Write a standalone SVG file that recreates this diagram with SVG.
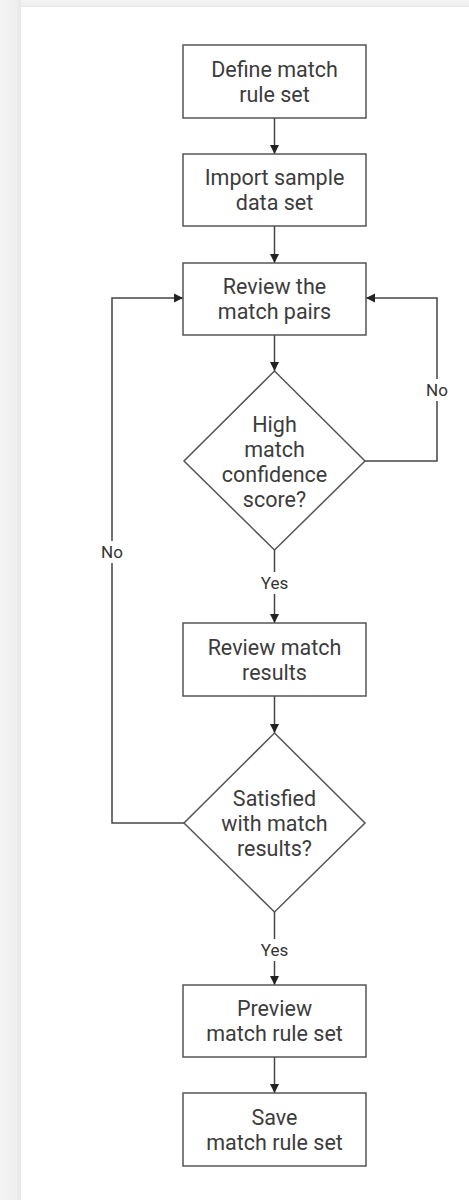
<svg xmlns="http://www.w3.org/2000/svg" width="469" height="1200" viewBox="0 0 469 1200">
<defs>
<linearGradient id="gl" x1="0" x2="1" y1="0" y2="0"><stop offset="0" stop-color="#f4f4f4"/><stop offset="0.8" stop-color="#eeeeee"/><stop offset="1" stop-color="#e6e6e6"/></linearGradient>
<linearGradient id="gt" x1="0" x2="0" y1="0" y2="1"><stop offset="0" stop-color="#f4f4f4"/><stop offset="0.8" stop-color="#eeeeee"/><stop offset="1" stop-color="#e6e6e6"/></linearGradient>
<marker id="ah" viewBox="0 0 10 10" refX="10" refY="5" markerWidth="9" markerHeight="10" markerUnits="userSpaceOnUse" orient="auto"><path d="M0,0 L10,5 L0,10 z" fill="#222"/></marker>
</defs>
<style>
.n{fill:#fff;stroke:#555;stroke-width:1.5}
.t{font-family:Roboto,"Liberation Sans",sans-serif;font-size:21.5px;fill:#3c3c3c;text-anchor:middle;dominant-baseline:central}
.l{font-family:Roboto,"Liberation Sans",sans-serif;font-size:17px;fill:#333;text-anchor:middle;dominant-baseline:central}
.c{fill:none;stroke:#444;stroke-width:1.5;marker-end:url(#ah)}
.lb{fill:#fff}
</style>
<rect width="469" height="1200" fill="#fff"/>
<rect x="0" y="0" width="21" height="1200" fill="url(#gl)"/>
<rect x="21" y="0" width="448" height="7" fill="url(#gt)"/>
<g id="connectors">
<line class="c" x1="274.5" y1="118" x2="274.5" y2="154"/>
<line class="c" x1="274.5" y1="226" x2="274.5" y2="263"/>
<line class="c" x1="274.5" y1="335" x2="274.5" y2="371"/>
<line class="c" x1="274.5" y1="550" x2="274.5" y2="623"/>
<line class="c" x1="274.5" y1="696" x2="274.5" y2="733"/>
<line class="c" x1="274.5" y1="912" x2="274.5" y2="985"/>
<line class="c" x1="274.5" y1="1057" x2="274.5" y2="1093"/>
<polyline class="c" points="365,461 437,461 437,298 366,298"/>
<polyline class="c" points="184,823 112,823 112,298 183,298"/>
<rect class="lb" x="422" y="379" width="30" height="22"/>
<text class="l" x="437" y="390">No</text>
<rect class="lb" x="97" y="541" width="30" height="22"/>
<text class="l" x="112" y="552">No</text>
<rect class="lb" x="257" y="572" width="35" height="22"/>
<text class="l" x="274.5" y="583">Yes</text>
<rect class="lb" x="257" y="939" width="35" height="22"/>
<text class="l" x="274.5" y="950">Yes</text>
</g>
<g id="define"><rect class="n" x="183" y="45" width="183" height="73"/><text class="t" x="274.5" y="69">Define match</text><text class="t" x="274.5" y="94">rule set</text></g>
<g id="import"><rect class="n" x="183" y="154" width="183" height="72"/><text class="t" x="274.5" y="177.5">Import sample</text><text class="t" x="274.5" y="202.5">data set</text></g>
<g id="review-pairs"><rect class="n" x="183" y="263" width="183" height="72"/><text class="t" x="274.5" y="286.5">Review the</text><text class="t" x="274.5" y="311.5">match pairs</text></g>
<g id="high-score"><polygon class="n" points="274.5,371 365,461 274.5,550 184,461"/><text class="t" x="274.5" y="424">High</text><text class="t" x="274.5" y="449">match</text><text class="t" x="274.5" y="474">confidence</text><text class="t" x="274.5" y="499">score?</text></g>
<g id="review-results"><rect class="n" x="183" y="623" width="183" height="73"/><text class="t" x="274.5" y="647">Review match</text><text class="t" x="274.5" y="672">results</text></g>
<g id="satisfied"><polygon class="n" points="274.5,733 365,823 274.5,912 184,823"/><text class="t" x="274.5" y="798">Satisfied</text><text class="t" x="274.5" y="823">with match</text><text class="t" x="274.5" y="848">results?</text></g>
<g id="preview"><rect class="n" x="183" y="985" width="183" height="72"/><text class="t" x="274.5" y="1008.5">Preview</text><text class="t" x="274.5" y="1033.5">match rule set</text></g>
<g id="save"><rect class="n" x="183" y="1093" width="183" height="73"/><text class="t" x="274.5" y="1117">Save</text><text class="t" x="274.5" y="1142">match rule set</text></g>
</svg>
